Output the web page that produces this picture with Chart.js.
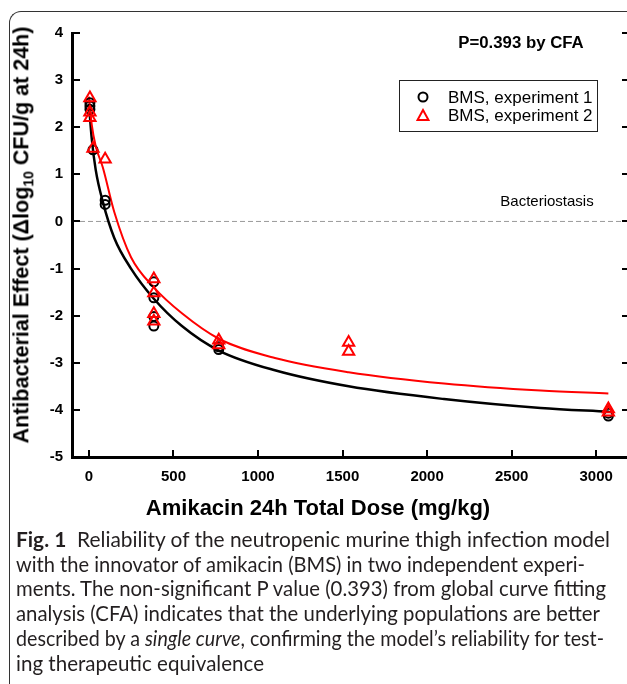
<!DOCTYPE html>
<html>
<head>
<meta charset="utf-8">
<script src="https://cdn.jsdelivr.net/npm/chart.js@4"></script>
<style>
  body { margin: 0; width: 627px; height: 684px; overflow: hidden; background: #fff; position: relative; font-family: 'Liberation Sans', Arial, sans-serif; }
  #frame { position: absolute; left: 9px; top: 11px; width: 700px; height: 700px; border-left: 1px solid #333; border-top: 1px solid #333; border-top-left-radius: 12px; }
  #wrap { position: absolute; left: 0; top: 0; width: 640px; height: 530px; }
  .ytitle { position: absolute; left: 23px; top: 235px; transform: translate(-50%, -50%) rotate(-90deg); font-weight: bold; font-size: 21.5px; white-space: nowrap; }
  .xtitle { position: absolute; left: 318px; top: 508px; transform: translate(-50%, -50%); font-weight: bold; font-size: 22px; white-space: nowrap; }
  .pval { position: absolute; left: 521px; top: 43px; transform: translate(-50%, -50%); font-weight: bold; font-size: 16.8px; white-space: nowrap; }
  .stasis { position: absolute; left: 547px; top: 200px; transform: translate(-50%, -50%); font-size: 15px; white-space: nowrap; }
  #legend { position: absolute; left: 399px; top: 80px; width: 199px; height: 52px; border: 1px solid #222; box-sizing: border-box; }
  #legend div { position: absolute; left: 16px; font-size: 17px; white-space: nowrap; height: 18px; line-height: 18px; }
  #legend svg { vertical-align: middle; margin-right: 18px; position: relative; top: -2px; }
  #caption { position: absolute; left: 16px; top: 527px; font-family: Lato, 'Open Sans', sans-serif; font-size: 20.8px; line-height: 24.7px; color: #231f20; white-space: nowrap; }
  #caption div { transform-origin: 0 50%; width: max-content; }
</style>
</head>
<body>
<div id="frame"></div>
<div id="wrap"><canvas id="myChart"></canvas></div>
<div class="ytitle">Antibacterial Effect (&Delta;log<sub style="font-size:14px">10</sub> CFU/g at 24h)</div>
<div class="xtitle">Amikacin 24h Total Dose (mg/kg)</div>
<div class="pval">P=0.393 by CFA</div>
<div class="stasis">Bacteriostasis</div>
<div id="legend">
  <div style="top:8px"><svg width="14" height="14"><circle cx="7" cy="7" r="4.5" fill="none" stroke="#000" stroke-width="2"/></svg>BMS, experiment 1</div>
  <div style="top:26px"><svg width="14" height="14"><polygon points="7,2 12.5,12 1.5,12" fill="none" stroke="#f00" stroke-width="2"/></svg>BMS, experiment 2</div>
</div>
<div id="caption">
  <div><b>Fig. 1</b>&nbsp; Reliability of the neutropenic murine thigh infection model</div>
  <div>with the innovator of amikacin (BMS) in two independent experi-</div>
  <div>ments. The non-significant P value (0.393) from global curve fitting</div>
  <div>analysis (CFA) indicates that the underlying populations are better</div>
  <div>described by a <i>single curve</i>, confirming the model’s reliability for test-</div>
  <div>ing therapeutic equivalence</div>
</div>
<script>
const ctx = document.getElementById("myChart");

// observed data
let exp1Dose = [6, 6, 6, 24, 96, 96, 384, 384, 384, 384, 768, 768, 3072, 3072]
let exp1Effect = [2.52, 2.45, 2.38, 1.52, 0.45, 0.36, -1.28, -1.62, -2.02, -2.22, -2.66, -2.72, -4.07, -4.13]
let exp2Dose = [6, 6, 6, 24, 96, 384, 384, 384, 384, 768, 768, 1536, 1536, 3072, 3072]
let exp2Effect = [2.62, 2.32, 2.2, 1.55, 1.32, -1.22, -1.52, -1.96, -2.12, -2.52, -2.62, -2.57, -2.76, -3.98, -4.05]

// fitted curves
let fitDose = [0, 17, 40, 82, 150, 249, 384, 550, 768, 1100, 1536, 2100, 2672, 3072]
let fit1 = [2.5, 1.75, 1.1, 0.42, -0.35, -1.0, -1.64, -2.22, -2.74, -3.16, -3.5, -3.77, -3.96, -4.04]
let fit2 = [2.65, 2.05, 1.6, 1.15, 0.2, -0.76, -1.4, -1.95, -2.49, -2.9, -3.2, -3.44, -3.59, -3.65]

let xTicks = [0, 500, 1000, 1500, 2000, 2500, 3000]
let xRange = [-100, 3200]
let yRange = [-5, 4]
let stasisLevel = 0

// caption line widths in the figure
let captionWidths = [594, 569, 590, 584, 588, 248]

function pairs(xs, ys){
  return xs.map((x, i) => ({x: x, y: ys[i]}))
}

document.querySelectorAll('#caption div').forEach((el, i) => {
  const w = el.getBoundingClientRect().width
  el.style.transform = 'scaleX(' + (captionWidths[i] / w) + ')'
})

Chart.defaults.font.family = "'Liberation Sans', Arial, sans-serif"
Chart.defaults.color = '#000'

// inward tick marks on left, right and bottom
const innerTicks = {
  id: 'innerTicks',
  afterDraw(chart){
    const c = chart.ctx
    const xs = chart.scales.x
    const ys = chart.scales.y
    const a = chart.chartArea
    c.save()
    c.strokeStyle = '#000'
    c.lineWidth = 2
    c.beginPath()
    xs.ticks.forEach(t => {
      const px = Math.round(xs.getPixelForValue(t.value))
      c.moveTo(px, a.bottom)
      c.lineTo(px, a.bottom - 7)
    })
    ys.ticks.forEach(t => {
      const py = Math.round(ys.getPixelForValue(t.value))
      c.moveTo(a.left, py)
      c.lineTo(a.left + 8, py)
      c.moveTo(a.right, py)
      c.lineTo(a.right - 8, py)
    })
    c.stroke()
    c.restore()
  }
}

const myChart = new Chart(ctx, {
  type: 'scatter',
  data: {
    datasets: [{
      label: 'BMS, experiment 2',
      data: pairs(exp2Dose, exp2Effect),
      pointStyle: 'triangle',
      pointRadius: 6.5,
      borderColor: '#f00',
      backgroundColor: 'rgba(0,0,0,0)',
      pointBorderWidth: 2,
      order: 0
    }, {
      label: 'BMS, experiment 1',
      data: pairs(exp1Dose, exp1Effect),
      pointStyle: 'circle',
      pointRadius: 4.5,
      borderColor: '#000',
      backgroundColor: 'rgba(0,0,0,0)',
      pointBorderWidth: 2,
      order: 1
    }, {
      label: 'fit 2',
      type: 'line',
      data: pairs(fitDose, fit2),
      borderColor: '#f00',
      borderWidth: 2,
      pointRadius: 0,
      cubicInterpolationMode: 'monotone',
      order: 2
    }, {
      label: 'fit 1',
      type: 'line',
      data: pairs(fitDose, fit1),
      borderColor: '#000',
      borderWidth: 2.5,
      pointRadius: 0,
      cubicInterpolationMode: 'monotone',
      order: 3
    }, {
      label: 'Bacteriostasis',
      type: 'line',
      data: pairs(xRange, [stasisLevel, stasisLevel]),
      borderColor: '#9a9a9a',
      borderWidth: 1,
      borderDash: [5, 3],
      pointRadius: 0,
      order: 4
    }]
  },
  options: {
    responsive: true,
    maintainAspectRatio: false,
    animation: false,
    layout: { padding: { top: 33, right: 10, left: 0, bottom: 0 } },
    plugins: {
      legend: { display: false },
      tooltip: { enabled: false }
    },
    scales: {
      x: {
        type: 'linear',
        min: xRange[0],
        max: xRange[1],
        grid: { display: false, drawTicks: false },
        border: { display: true, color: '#000', width: 3 },
        ticks: { padding: 11, font: { size: 15, weight: 'bold' }, callback: v => String(v) },
        afterBuildTicks: s => { s.ticks = xTicks.map(v => ({value: v})) },
        afterFit: s => { s.height = 73 }
      },
      y: {
        min: yRange[0],
        max: yRange[1],
        grid: { display: false, drawTicks: false },
        border: { display: true, color: '#000', width: 3 },
        ticks: { stepSize: 1, padding: 9, font: { size: 15, weight: 'bold' }, callback: v => String(v) },
        afterFit: s => { s.width = 72 }
      }
    }
  },
  plugins: [innerTicks]
});
</script>
</body>
</html>
